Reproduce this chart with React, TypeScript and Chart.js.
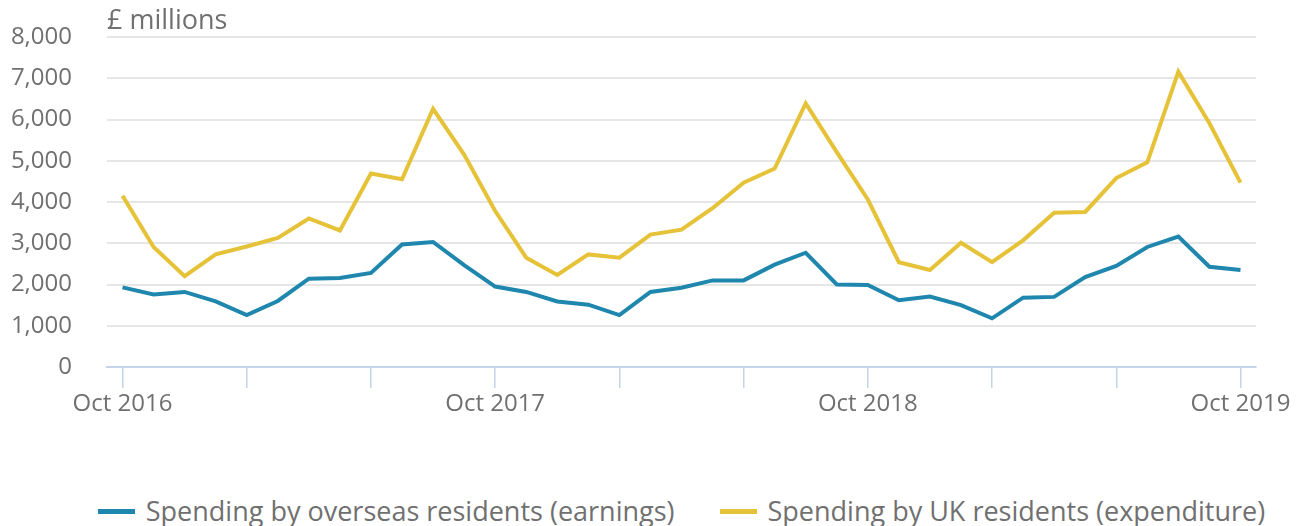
import React, { useEffect, useRef } from "react";
import { Chart, registerables } from "chart.js";

Chart.register(...registerables);

const months: string[] = [
  "Oct 2016", "Nov 2016", "Dec 2016", "Jan 2017", "Feb 2017", "Mar 2017", "Apr 2017", "May 2017", "Jun 2017",
  "Jul 2017", "Aug 2017", "Sep 2017", "Oct 2017", "Nov 2017", "Dec 2017", "Jan 2018", "Feb 2018", "Mar 2018",
  "Apr 2018", "May 2018", "Jun 2018", "Jul 2018", "Aug 2018", "Sep 2018", "Oct 2018", "Nov 2018", "Dec 2018",
  "Jan 2019", "Feb 2019", "Mar 2019", "Apr 2019", "May 2019", "Jun 2019", "Jul 2019", "Aug 2019", "Sep 2019",
  "Oct 2019",
];

const earnings: number[] = [
  1930, 1760, 1820, 1590, 1260, 1600, 2140, 2160, 2280, 2970, 3030, 2470, 1950,
  1820, 1590, 1510, 1260, 1820, 1920, 2100, 2100, 2480, 2770, 2000, 1990,
  1620, 1710, 1500, 1180, 1680, 1700, 2180, 2450, 2910, 3160, 2430, 2350,
];

const expenditure: number[] = [
  4150, 2910, 2200, 2730, 2920, 3130, 3600, 3310, 4690, 4550, 6260, 5150, 3780,
  2650, 2230, 2730, 2650, 3210, 3330, 3850, 4470, 4810, 6390, 5210, 4060,
  2540, 2350, 3010, 2540, 3070, 3740, 3760, 4580, 4960, 7160, 5910, 4470,
];

const labeledTicks: string[] = ["Oct 2016", "Oct 2017", "Oct 2018", "Oct 2019"];
const yTicks: number[] = [0, 1000, 2000, 3000, 4000, 5000, 6000, 7000, 8000];

const seriesNames: string[] = [
  "Spending by overseas residents (earnings)",
  "Spending by UK residents (expenditure)",
];
const seriesColors: string[] = ["#1f87ae", "#e6c239"];

const FONT = "'Open Sans', sans-serif";
const TEXT = "#707070";

export default function App() {
  const ref = useRef<HTMLCanvasElement | null>(null);

  useEffect(() => {
    document.body.style.margin = "0";
    const canvas = ref.current;
    if (!canvas) return;

    const unitPlugin = {
      id: "unitLabel",
      afterDraw(chart: any) {
        const { ctx, chartArea } = chart;
        ctx.save();
        ctx.font = `27px ${FONT}`;
        ctx.fillStyle = TEXT;
        ctx.textAlign = "left";
        ctx.textBaseline = "middle";
        ctx.fillText("£ millions", chartArea.left, 21);
        ctx.restore();
      },
    };

    const chart = new Chart(canvas, {
      type: "line",
      data: {
        labels: months,
        datasets: [
          {
            label: seriesNames[0],
            data: earnings,
            borderColor: seriesColors[0],
            backgroundColor: seriesColors[0],
            borderWidth: 4,
            pointRadius: 0,
            tension: 0,
          },
          {
            label: seriesNames[1],
            data: expenditure,
            borderColor: seriesColors[1],
            backgroundColor: seriesColors[1],
            borderWidth: 4,
            pointRadius: 0,
            tension: 0,
          },
        ],
      },
      options: {
        animation: false,
        responsive: false,
        maintainAspectRatio: false,
        layout: { padding: { top: 37, right: 44, left: 0, bottom: 0 } },
        plugins: {
          legend: { display: false },
          tooltip: { enabled: false },
        },
        scales: {
          x: {
            type: "category",
            offset: true,
            afterFit(scale: any) {
              scale.height = 430 - 367;
            },
            grid: {
              offset: false,
              drawOnChartArea: false,
              drawTicks: true,
              tickLength: 21,
              lineWidth: 1.5,
              color: (ctx: any) => (ctx.index % 4 === 0 ? "#c6d4ea" : "rgba(0,0,0,0)"),
            },
            border: { display: true, color: "#c6d4ea", width: 2 },
            ticks: {
              autoSkip: false,
              maxRotation: 0,
              padding: 2,
              color: TEXT,
              font: { family: FONT, size: 24 },
              callback: (_v: any, i: number) =>
                labeledTicks.includes(months[i]) ? months[i] : "",
            },
          },
          y: {
            min: 0,
            max: 8000,
            afterFit(scale: any) {
              scale.width = 107;
              scale.paddingTop = 0;
              scale.paddingBottom = 0;
            },
            afterBuildTicks(scale: any) {
              scale.ticks = yTicks.map((v) => ({ value: v }));
            },
            grid: {
              color: "#e6e6e6",
              lineWidth: 2,
              drawTicks: false,
            },
            border: { display: false },
            ticks: {
              padding: 35,
              color: TEXT,
              font: { family: FONT, size: 24 },
              callback: (v: any) => Number(v).toLocaleString("en-GB"),
            },
          },
        },
      },
      plugins: [unitPlugin],
    });

    return () => chart.destroy();
  }, []);

  return (
    <div style={{ width: 1300, height: 526, position: "relative", background: "#fff" }}>
      <canvas ref={ref} width={1300} height={430} style={{ display: "block" }} />
      <div
        style={{
          position: "absolute",
          top: 493,
          left: 107,
          width: 1149,
          display: "flex",
          justifyContent: "center",
          alignItems: "center",
          fontFamily: FONT,
          fontSize: 27,
          color: TEXT,
          lineHeight: "36px",
          whiteSpace: "nowrap",
        }}
      >
        {seriesNames.map((name, i) => (
          <div
            key={name}
            style={{ display: "flex", alignItems: "center", marginLeft: i === 0 ? 0 : 45 }}
          >
            <span
              style={{
                display: "inline-block",
                width: 37,
                height: 5,
                background: seriesColors[i],
                marginRight: 11,
              }}
            />
            <span>{name}</span>
          </div>
        ))}
      </div>
    </div>
  );
}
